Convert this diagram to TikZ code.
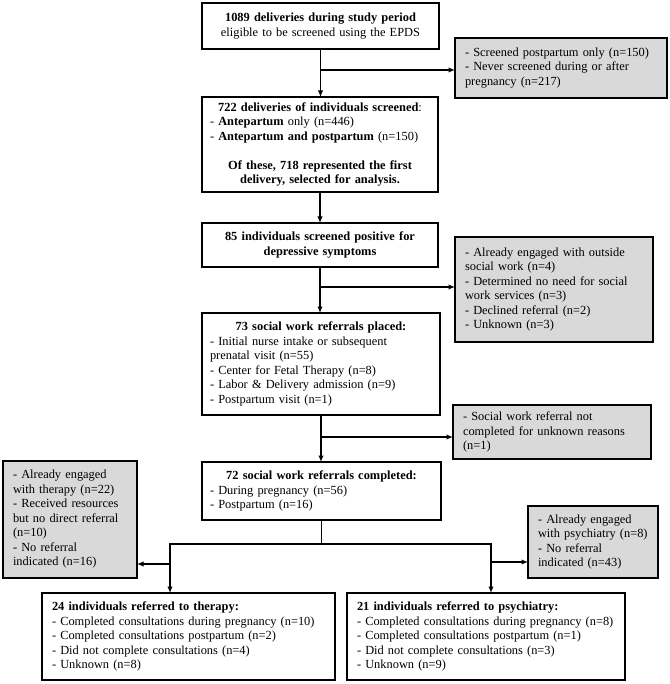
\documentclass[tikz,border=0pt]{standalone}
\usepackage{fontspec}
\setmainfont{Liberation Serif}
\usetikzlibrary{arrows.meta}
\definecolor{gfill}{HTML}{D9D9D9}
\newcommand{\ctr}[1]{{\centering #1\par}}
\tikzset{
  base/.style={draw=black, line width=2pt, anchor=north west, inner ysep=0pt,
    outer sep=0pt, font=\fontsize{12.4}{14.5}\selectfont, align=left},
  wbox/.style={base, fill=white},
  gbox/.style={base, fill=gfill},
  conn/.style={line width=1.5pt, line join=miter},
  arr/.style={conn, -{Latex[length=6.5pt,width=5.5pt]}},
}
\begin{document}
\begin{tikzpicture}[x=1pt,y=-1pt]
\useasboundingbox (0,0) rectangle (669,684);

\node[wbox, align=center, inner xsep=8pt, text width=221pt, minimum height=46pt] (b1) at (202,3)
  {\textbf{1089 deliveries during study period}\\eligible to be screened using the EPDS};

\node[gbox, inner xsep=10pt, text width=192pt, minimum height=60pt] (g1) at (455,38)
  {- Screened postpartum only (n=150)\\- Never screened during or after\\pregnancy (n=217)};

\node[wbox, inner xsep=8pt, text width=220pt, minimum height=95pt] (b2) at (202,97)
  {\ctr{\textbf{722 deliveries of individuals screened}:}
   - \textbf{Antepartum} only (n=446)\\
   - \textbf{Antepartum and postpartum} (n=150)\par
   \vskip 14.5pt
   \ctr{\textbf{Of these, 718 represented the first\\delivery, selected for analysis.}}};

\node[wbox, align=center, inner xsep=8pt, text width=220pt, minimum height=44pt] (b3) at (202,223)
  {\textbf{85 individuals screened positive for\\depressive symptoms}};

\node[gbox, inner xsep=10pt, text width=178pt, minimum height=105pt] (g2) at (455,237)
  {- Already engaged with outside\\social work (n=4)\\- Determined no need for social\\work services (n=3)\\- Declined referral (n=2)\\- Unknown (n=3)};

\node[wbox, inner xsep=8pt, text width=222pt, minimum height=102pt] (b4) at (202,313)
  {\ctr{\textbf{73 social work referrals placed:}}
   - Initial nurse intake or subsequent\\prenatal visit (n=55)\\- Center for Fetal Therapy (n=8)\\- Labor \& Delivery admission (n=9)\\- Postpartum visit (n=1)};

\node[gbox, inner xsep=10pt, text width=178pt, minimum height=54pt] (g3) at (453,405)
  {- Social work referral not\\completed for unknown reasons\\(n=1)};

\node[wbox, inner xsep=8pt, text width=223pt, minimum height=58pt] (b5) at (202,462)
  {\ctr{\textbf{72 social work referrals completed:}}
   - During pregnancy (n=56)\\- Postpartum (n=16)};

\node[gbox, inner xsep=10pt, text width=114pt, minimum height=117pt] (g4) at (3,461)
  {- Already engaged\\with therapy (n=22)\\- Received resources\\but no direct referral\\(n=10)\\- No referral\\indicated (n=16)};

\node[gbox, inner xsep=10pt, text width=110pt, minimum height=72pt] (g5) at (528,506)
  {- Already engaged\\with psychiatry (n=8)\\- No referral\\indicated (n=43)};

\node[wbox, inner xsep=10pt, text width=273pt, minimum height=87pt] (b6) at (42,593)
  {\textbf{24 individuals referred to therapy:}\\- Completed consultations during pregnancy (n=10)\\- Completed consultations postpartum (n=2)\\- Did not complete consultations (n=4)\\- Unknown (n=8)};

\node[wbox, inner xsep=10pt, text width=258pt, minimum height=87pt] (b7) at (347,593)
  {\textbf{21 individuals referred to psychiatry:}\\- Completed consultations during pregnancy (n=8)\\- Completed consultations postpartum (n=1)\\- Did not complete consultations (n=3)\\- Unknown (n=9)};

% connectors
\draw[arr] (b1.south) -- (b1.south |- b2.north);
\coordinate (j1) at (b1.south |- 0,70);
\draw[arr] (j1) -- (j1 -| g1.west);

\draw[arr] (b2.south) -- (b2.south |- b3.north);

\draw[arr] (b3.south) -- (b3.south |- b4.north);
\coordinate (j2) at (b3.south |- 0,287);
\draw[arr] (j2) -- (j2 -| g2.west);

\draw[arr] (b4.south) -- (b4.south |- b5.north);
\coordinate (j3) at (b4.south |- 0,437);
\draw[arr] (j3) -- (j3 -| g3.west);

\coordinate (j4) at (b5.south |- 0,544);
\coordinate (jl) at (170,544);
\coordinate (jr) at (491,544);
\draw[conn] (b5.south) -- (j4);
\draw[arr] (j4) -- (jl) -- (jl |- b6.north);
\draw[arr] (j4) -- (jr) -- (jr |- b7.north);
\coordinate (jl2) at (170,564);
\draw[arr] (jl2) -- (jl2 -| g4.east);
\coordinate (jr2) at (491,562);
\draw[arr] (jr2) -- (jr2 -| g5.west);
\end{tikzpicture}
\end{document}
